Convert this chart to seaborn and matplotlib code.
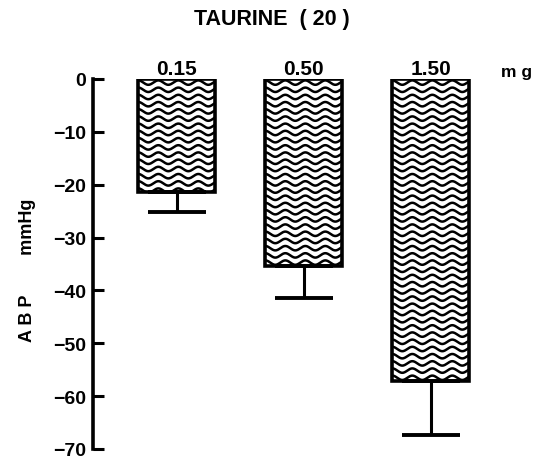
import numpy as np
import pandas as pd
import matplotlib
matplotlib.use("Agg")
import matplotlib.pyplot as plt
from matplotlib.lines import Line2D
import seaborn as sns

# ---- data ----
doses = ["0.15", "0.50", "1.50"]
abp_change = [-21.4, -35.4, -57.2]
sem = [3.7, 6.1, 10.2]
yticks = [0, -10, -20, -30, -40, -50, -60, -70]

df = pd.DataFrame({"dose": doses, "abp": abp_change, "sem": sem})

sns.set_theme(style="white")
plt.rcParams["font.family"] = ["Liberation Sans", "DejaVu Sans"]
plt.rcParams["font.weight"] = "bold"
for k in ["text.color", "axes.labelcolor", "xtick.color", "ytick.color"]:
    plt.rcParams[k] = "black"

W, H = 544, 460
fig = plt.figure(figsize=(W / 100, H / 100), dpi=100)
top_px, bot_px = 80, 450
ax = fig.add_axes([93 / W, 1 - bot_px / H, 447 / W, (bot_px - top_px) / H])

sns.barplot(data=df, x="dose", y="abp", order=doses, color="white",
            edgecolor="black", linewidth=2.6, width=0.606, errorbar=None,
            saturation=1, ax=ax)

ax.set_ylim(-70, 0)
ax.set_xlim(-0.66, 2.86)

# wavy fill clipped to each bar
xpx = 447 / 3.52
ypx = (bot_px - top_px) / 70
period = 20.0 / xpx
amp = 2.2 / ypx
spacing = 7.2 / ypx
for p in ax.patches:
    x0, w = p.get_x(), p.get_width()
    ytop = p.get_y()
    ybot = ytop + p.get_height()
    xs = np.linspace(x0 - 0.05, x0 + w + 0.05, 200)
    yl = max(ytop, ybot) - spacing * 0.5
    while yl > min(ytop, ybot) - spacing:
        ys = yl + amp * np.sin(2 * np.pi * (xs - x0) / period + np.pi / 2)
        ln = Line2D(xs, ys, color="black", lw=1.8, zorder=p.get_zorder() + 0.1)
        ax.add_line(ln)
        ln.set_clip_path(p)
        yl -= spacing
    p.set_zorder(p.get_zorder() + 0.2)
    p.set_facecolor("none")

# downward error bars
lower = df["sem"].to_numpy()
ax.errorbar(np.arange(len(doses)), df["abp"], yerr=[lower, np.zeros_like(lower)],
            fmt="none", ecolor="black", elinewidth=2.2, capsize=21,
            capthick=2.8, zorder=1)

# axes styling
for s in ["top", "right", "bottom"]:
    ax.spines[s].set_visible(False)
ax.spines["left"].set_linewidth(2.6)
ax.spines["left"].set_color("black")
ax.set_yticks(yticks)
ax.set_yticklabels([f"{v}" if v == 0 else f"\u2212{abs(v)}" for v in yticks],
                   fontsize=14, fontweight="bold")
ax.tick_params(axis="y", direction="in", length=8, width=2.2, pad=5,
               left=True, colors="black")

ax.xaxis.tick_top()
ax.set_xticks(range(len(doses)))
ax.set_xticklabels(doses, fontsize=15, fontweight="bold")
ax.tick_params(axis="x", length=0, pad=0.8, top=True, bottom=False,
               labeltop=True, labelbottom=False)
ax.set_xlabel("")

ax.set_ylabel("A B P        mmHg", fontsize=13, fontweight="bold")
ax.yaxis.set_label_coords((36 - 93) / 447, 1 - (270 - top_px) / (bot_px - top_px))

fig.text(272 / W, 1 - 20 / H, "TAURINE  ( 20 )", ha="center", va="center",
         fontsize=15.5, fontweight="bold")
fig.text(517 / W, 1 - 72 / H, "m g", ha="center", va="center",
         fontsize=12.5, fontweight="bold")

fig.savefig("out.png", dpi=100, facecolor="white")
